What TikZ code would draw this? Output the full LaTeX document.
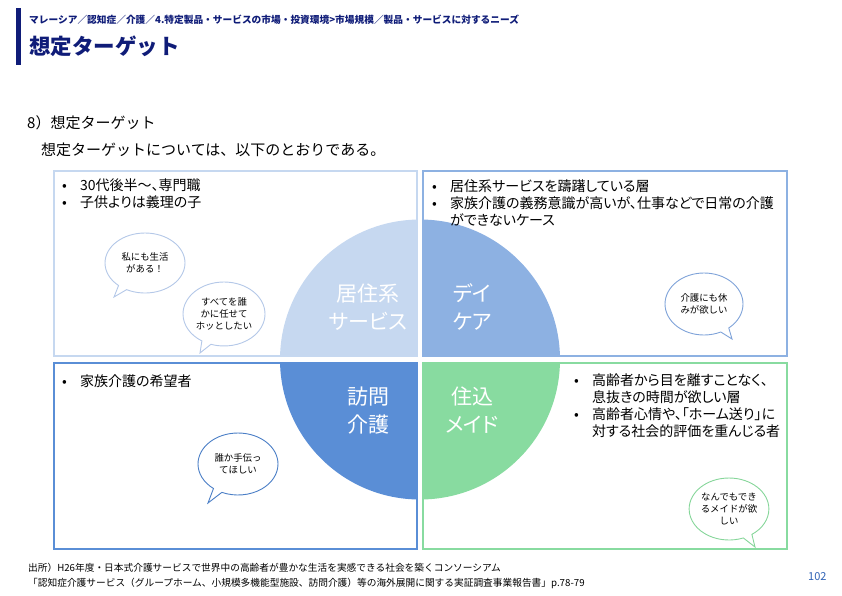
\documentclass[tikz,border=0pt]{standalone}
\usepackage{fontspec}
\setmainfont{Noto Sans CJK JP}
\newfontfamily\propjp{Noto Sans CJK JP}[RawFeature=+palt]
\usepackage{tikz}
\usetikzlibrary{positioning,shapes.callouts}
\definecolor{hdnavy}{HTML}{0F1C78}
\definecolor{qlight}{HTML}{C6D8F0}
\definecolor{qmid}{HTML}{8DB1E2}
\definecolor{qdeep}{HTML}{5A8ED6}
\definecolor{qgreen}{HTML}{88DBA0}
\definecolor{bubtl}{HTML}{B4C8E8}
\definecolor{bubtr}{HTML}{7FA3D9}
\definecolor{bubbl}{HTML}{4A7EC6}
\definecolor{bubbr}{HTML}{86D69A}
\definecolor{pagenum}{HTML}{2F62B5}
\newcommand{\fsz}[2]{\fontsize{#1}{#2}\selectfont}
\newcommand{\bul}{\makebox[18pt][l]{•}}
\newcommand{\bulgap}{\hspace*{18pt}}
\tikzset{
  panel/.style={minimum width=363pt, minimum height=185pt, inner sep=0pt},
  panelline/.style={line width=1.8pt},
  qlabel/.style={text=white, align=center, inner sep=0pt, font=\propjp\fsz{21}{28}},
  points/.style={anchor=north west, align=left, inner sep=0pt, font=\propjp\fsz{14}{17}},
  bubble/.style={ellipse callout, draw, line width=0.9pt, fill=white, inner sep=0pt,
    align=center, minimum width=80pt, minimum height=62pt, callout pointer arc=14,
    font=\fsz{9.4}{12}},
  textline/.style={anchor=west, inner sep=0pt}
}
\begin{document}
\begin{tikzpicture}[x=1pt, y=-1pt]
  \useasboundingbox (0,0) rectangle (842,595);
  % header
  \fill[hdnavy] (16,8) rectangle (21,65);
  \node[textline, text=hdnavy, font=\bfseries\fsz{9.7}{12}] (crumb) at (29,20)
    {マレーシア／認知症／介護／4.特定製品・サービスの市場・投資環境>市場規模／製品・サービスに対するニーズ};
  \node[textline, text=hdnavy, font=\bfseries\fsz{21.5}{24}] (title) at (29,46) {想定ターゲット};

  % intro
  \node[textline, font=\fsz{15}{18}] (sec) at (27,123) {8）想定ターゲット};
  \node[textline, font=\fsz{15}{18}] (lead) at (41,150) {想定ターゲットについては、以下のとおりである。};

  % four panels and the split circle
  \coordinate (hub) at (420,359.5);
  \foreach \q/\c/\px/\py in {tl/qlight/235.5/263.5, tr/qmid/605/263.5, bl/qdeep/235.5/456, br/qgreen/605/456}{
    \node[panel] (\q) at (\px,\py) {};
    \begin{scope}
      \clip (\q.north west) rectangle (\q.south east);
      \fill[\c] (hub) circle[radius=140];
    \end{scope}
    \draw[panelline, \c] (\q.north west) rectangle (\q.south east);
  }

  \node[qlabel] (lbtl) at (368,307) {居住系\\サービス};
  \node[qlabel] (lbtr) at (472,307) {デイ\\ケア};
  \node[qlabel] (lbbl) at (368,410.5) {訪問\\介護};
  \node[qlabel] (lbbr) at (472,410.5) {住込\\メイド};

  % target groups
  \node[points] (pttl) at (62,179) {\bul 30代後半～、専門職\\\bul 子供よりは義理の子};
  \node[points] (pttr) at (432,180) {\bul 居住系サービスを躊躇している層\\\bul 家族介護の義務意識が高いが、仕事などで日常の介護\\\bulgap ができないケース};
  \node[points] (ptbl) at (62,375) {\bul 家族介護の希望者};
  \node[points] (ptbr) at (574,374) {\bul 高齢者から目を離すことなく、\\\bulgap 息抜きの時間が欲しい層\\\bul 高齢者心情や、「ホーム送り」に\\\bulgap 対する社会的評価を重んじる者};

  % voices
  \node[bubble, draw=bubtl, minimum width=80pt, minimum height=60pt,
    callout absolute pointer={(114,297)}] (vc1) at (145,263) {私にも生活\\がある！};
  \node[bubble, draw=bubtl, minimum width=82pt, minimum height=64pt,
    callout absolute pointer={(200,353)}] (vc2) at (224,314) {すべてを誰\\かに任せて\\ホッとしたい};
  \node[bubble, draw=bubtr, minimum width=78pt, minimum height=62pt,
    callout absolute pointer={(732,339)}] (vc3) at (704,304) {介護にも休\\みが欲しい};
  \node[bubble, draw=bubbl, minimum width=80pt, minimum height=62pt,
    callout absolute pointer={(208,503)}] (vc4) at (238,464) {誰か手伝っ\\てほしい};
  \node[bubble, draw=bubbr, minimum width=78pt, minimum height=62pt,
    callout absolute pointer={(755,547)}] (vc5) at (729,509) {なんでもでき\\るメイドが欲\\しい};

  % source
  \node[textline, font=\fsz{9.7}{12}] (src1) at (28,568)
    {出所）H26年度・日本式介護サービスで世界中の高齢者が豊かな生活を実感できる社会を築くコンソーシアム};
  \node[textline, font=\fsz{9.7}{12}] (src2) at (28,583)
    {「認知症介護サービス（グループホーム、小規模多機能型施設、訪問介護）等の海外展開に関する実証調査事業報告書」p.78-79};
  \node[textline, text=pagenum, font=\fsz{11}{12}] (pgno) at (808,577) {102};
\end{tikzpicture}
\end{document}
